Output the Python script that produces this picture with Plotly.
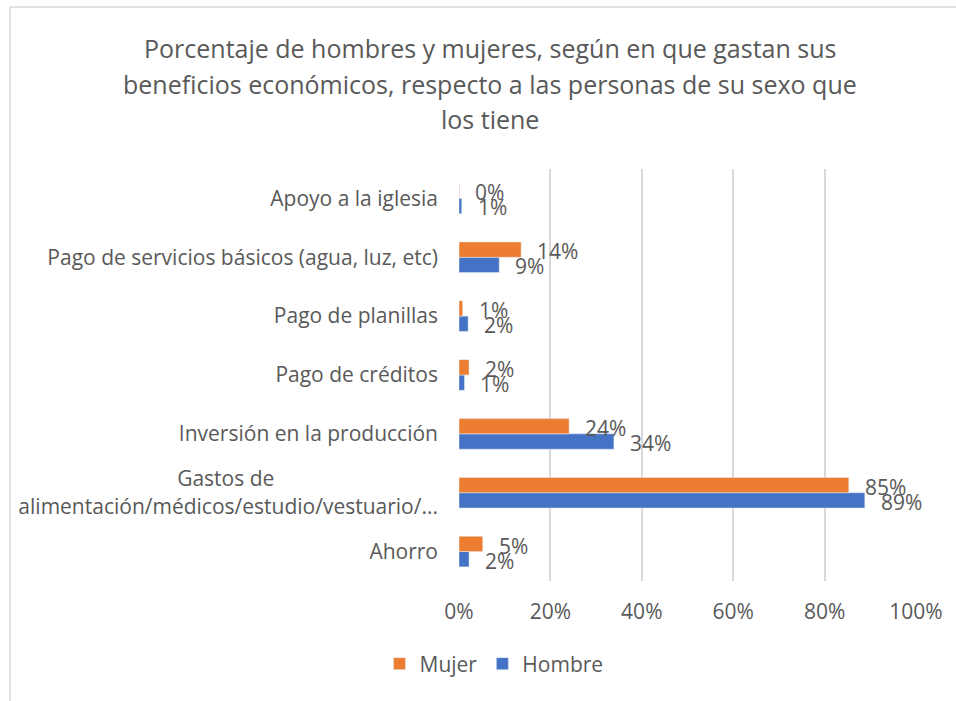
import plotly.graph_objects as go

categories = [
    "Ahorro",
    "Gastos de alimentación/médicos/estudio/vestuario/...",
    "Inversión en la producción",
    "Pago de créditos",
    "Pago de planillas",
    "Pago de servicios básicos (agua, luz, etc)",
    "Apoyo a la iglesia",
]
tick_labels = [
    "Ahorro",
    "Gastos de" + "\u00a0" * 30 + "<br>alimentación/médicos/estudio/vestuario/...",
    "Inversión en la producción",
    "Pago de créditos",
    "Pago de planillas",
    "Pago de servicios básicos (agua, luz, etc)",
    "Apoyo a la iglesia",
]
mujer = [0.052, 0.853, 0.241, 0.022, 0.008, 0.136, 0.001]
hombre = [0.022, 0.888, 0.339, 0.012, 0.020, 0.088, 0.006]
mujer_labels = ["5%", "85%", "24%", "2%", "1%", "14%", "0%"]
hombre_labels = ["2%", "89%", "34%", "1%", "2%", "9%", "1%"]
x_ticks = [0, 0.2, 0.4, 0.6, 0.8, 1.0]
x_tick_labels = ["0%", "20%", "40%", "60%", "80%", "100%"]

ORANGE = "#ED7D31"
BLUE = "#4472C4"
GRAY = "#595959"
FONT = "Open Sans"
FS = 21

W, H = 956, 701
ML, MR, MT, MB = 459, 40, 169, 120
PW = W - ML - MR
PH = H - MT - MB

fig = go.Figure()
fig.add_trace(go.Bar(y=categories, x=hombre, orientation="h", name="Hombre",
                     marker=dict(color=BLUE), legendrank=2))
fig.add_trace(go.Bar(y=categories, x=mujer, orientation="h", name="Mujer",
                     marker=dict(color=ORANGE), legendrank=1))

annotations = []
for c, v, t in zip(categories, mujer, mujer_labels):
    annotations.append(dict(x=v, y=c, text=t, showarrow=False, xanchor="left",
                            yanchor="middle", xshift=14, yshift=6,
                            font=dict(size=FS, color=GRAY, family=FONT)))
for c, v, t in zip(categories, hombre, hombre_labels):
    annotations.append(dict(x=v, y=c, text=t, showarrow=False, xanchor="left",
                            yanchor="middle", xshift=14, yshift=-9,
                            font=dict(size=FS, color=GRAY, family=FONT)))

title_lines = [
    "Porcentaje de hombres y mujeres, según en que gastan sus",
    "beneficios económicos, respecto a las personas de su sexo que",
    "los tiene",
]
title_y = [48, 84, 119]


def px2x(px):
    return (px - ML) / PW


def py2y(py):
    return (H - MB - py) / PH


for line, py in zip(title_lines, title_y):
    annotations.append(dict(text=line, xref="paper", yref="paper",
                            x=px2x(490), y=py2y(py),
                            xanchor="center", yanchor="middle", showarrow=False,
                            font=dict(size=25, color=GRAY, family=FONT)))

shapes = [
    dict(type="line", xref="paper", yref="paper", x0=px2x(10), x1=px2x(10),
         y0=py2y(7), y1=py2y(705), line=dict(color="#D9D9D9", width=1.5)),
    dict(type="line", xref="paper", yref="paper", x0=px2x(10), x1=px2x(960),
         y0=py2y(7), y1=py2y(7), line=dict(color="#D9D9D9", width=1.5)),
]

fig.update_layout(
    width=W, height=H,
    margin=dict(l=ML, r=MR, t=MT, b=MB),
    barmode="group", bargap=0.48, bargroupgap=0,
    plot_bgcolor="white", paper_bgcolor="white",
    font=dict(family=FONT, color=GRAY, size=FS),
    showlegend=True,
    legend=dict(orientation="h", x=px2x(494), y=py2y(664), xanchor="center",
                yanchor="middle", font=dict(size=FS, color=GRAY, family=FONT),
                itemwidth=30),
    annotations=annotations,
    shapes=shapes,
    xaxis=dict(range=[0, 1], tickvals=x_ticks, ticktext=x_tick_labels,
               showgrid=True, gridcolor="#D9D9D9", gridwidth=1.5,
               zeroline=False, showline=False,
               tickfont=dict(size=FS, color=GRAY, family=FONT),
               ticklabelstandoff=16),
    yaxis=dict(categoryorder="array", categoryarray=categories,
               tickvals=categories, ticktext=tick_labels,
               showgrid=False, zeroline=False, showline=False,
               tickfont=dict(size=FS, color=GRAY, family=FONT),
               ticklabelstandoff=20),
)

fig.write_html("out.html", config={"displayModeBar": False},
               post_script="document.body.style.margin='0';")
